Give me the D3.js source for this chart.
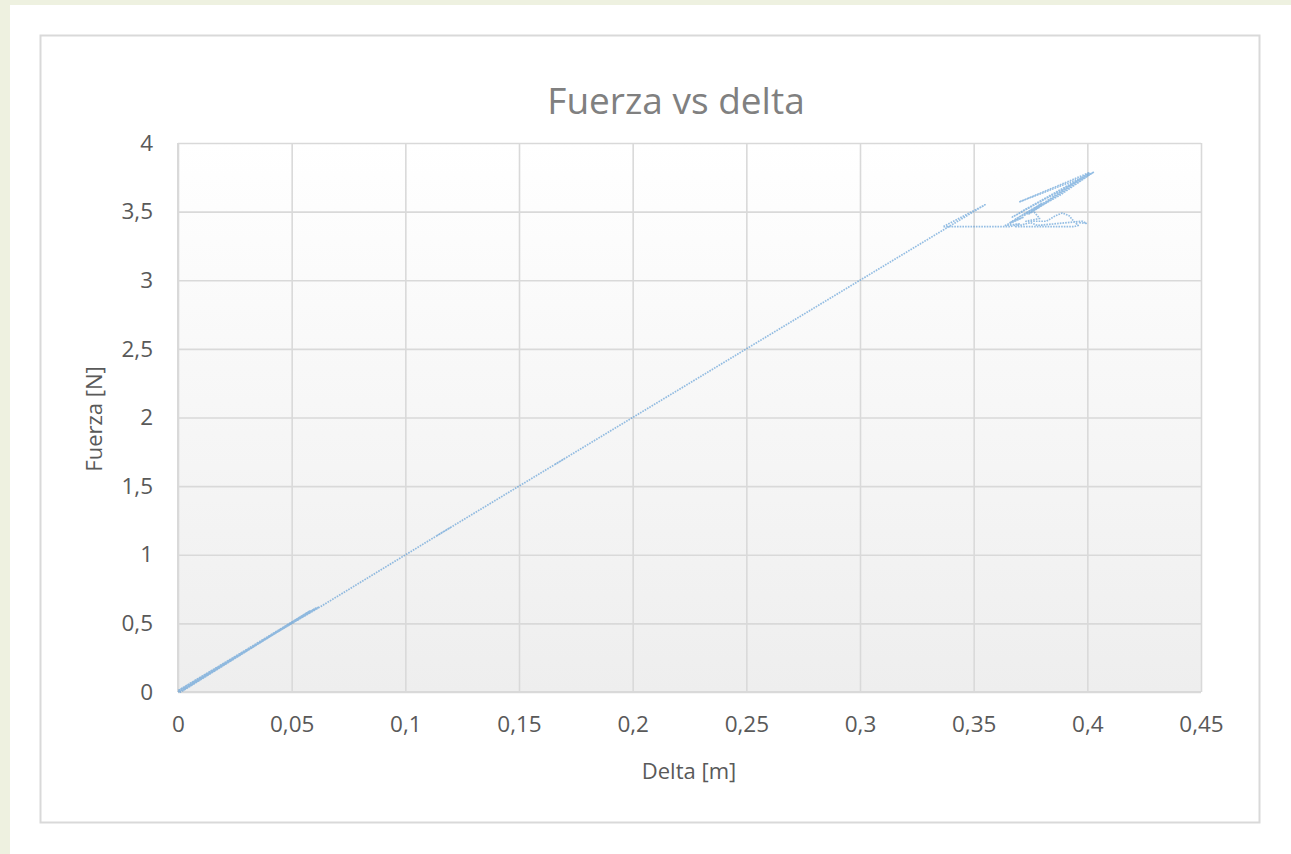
<!DOCTYPE html>
<html>
<head>
<meta charset="utf-8">
<script src="https://cdn.jsdelivr.net/npm/d3@7"></script>
<style>
  html, body { margin: 0; padding: 0; background: #eef1e0; }
  svg { display: block; }
  .tick text { font-family: "Open Sans", sans-serif; }
</style>
</head>
<body>
<svg id="chart" width="1291" height="854"></svg>
<script>
// Displacement of the spring [m]
const delta = [
  0, 0.062, 0.0, 0.058, 0.002, 0.060, 0.001, 0.061, 0.002, 0.059, 0.0, 0.063,
  0.115, 0.120, 0.114, 0.170, 0.166, 0.172, 0.250, 0.300, 0.355,
  0.3365, 0.366, 0.370, 0.364, 0.372, 0.366, 0.376, 0.368, 0.380, 0.372, 0.388,
  0.402, 0.371, 0.400, 0.367, 0.403, 0.374, 0.398, 0.370, 0.401, 0.376,
  0.379, 0.373, 0.382, 0.386, 0.389, 0.392, 0.394, 0.396, 0.394,
  0.368, 0.375, 0.378, 0.385, 0.398, 0.3995, 0.396
];
// Measured force [N]
const fuerza = [
  0, 0.62, 0.005, 0.59, 0.012, 0.605, 0.0, 0.615, 0.008, 0.595, 0.01, 0.625,
  1.15, 1.20, 1.14, 1.70, 1.66, 1.72, 2.50, 3.00, 3.55,
  3.39, 3.39, 3.41, 3.40, 3.46, 3.42, 3.52, 3.44, 3.56, 3.47, 3.62,
  3.78, 3.50, 3.77, 3.46, 3.79, 3.48, 3.75, 3.57, 3.785, 3.51,
  3.45, 3.43, 3.43, 3.47, 3.49, 3.47, 3.43, 3.40, 3.39,
  3.39, 3.42, 3.40, 3.41, 3.43, 3.415, 3.42
];

const xTicks = [0, 0.05, 0.1, 0.15, 0.2, 0.25, 0.3, 0.35, 0.4, 0.45];
const xTickLabels = ["0", "0,05", "0,1", "0,15", "0,2", "0,25", "0,3", "0,35", "0,4", "0,45"];
const yTicks = [0, 0.5, 1, 1.5, 2, 2.5, 3, 3.5, 4];
const yTickLabels = ["0", "0,5", "1", "1,5", "2", "2,5", "3", "3,5", "4"];

const svg = d3.select("#chart");

// slide background and white page
svg.append("rect").attr("x", 0).attr("y", 0).attr("width", 1291).attr("height", 854).attr("fill", "#eef1e0");
svg.append("rect").attr("x", 10).attr("y", 5).attr("width", 1281).attr("height", 849).attr("fill", "#ffffff");

// chart frame
svg.append("rect")
  .attr("x", 40.5).attr("y", 35.5).attr("width", 1219).attr("height", 787)
  .attr("fill", "#ffffff").attr("stroke", "#d9d9d9").attr("stroke-width", 2);

const plotLeft = 178, plotRight = 1201, plotTop = 143, plotBottom = 692;
const x = d3.scaleLinear().domain([0, 0.45]).range([plotLeft, plotRight]);
const y = d3.scaleLinear().domain([0, 4]).range([plotBottom, plotTop]);

// plot area background gradient
const defs = svg.append("defs");
const grad = defs.append("linearGradient").attr("id", "plotBg")
  .attr("x1", 0).attr("y1", 0).attr("x2", 0).attr("y2", 1);
grad.append("stop").attr("offset", "0%").attr("stop-color", "#ffffff");
grad.append("stop").attr("offset", "100%").attr("stop-color", "#eeeeee");
svg.append("rect").attr("x", plotLeft).attr("y", plotTop)
  .attr("width", plotRight - plotLeft).attr("height", plotBottom - plotTop)
  .attr("fill", "url(#plotBg)");

// gridlines
const gridColor = "#d9d9d9";
const xGrid = svg.append("g").attr("transform", `translate(0,${plotBottom})`)
  .call(d3.axisBottom(x).tickValues(xTicks).tickSize(-(plotBottom - plotTop)).tickFormat(""));
const yGrid = svg.append("g").attr("transform", `translate(${plotLeft},0)`)
  .call(d3.axisLeft(y).tickValues(yTicks).tickSize(-(plotRight - plotLeft)).tickFormat(""));
[xGrid, yGrid].forEach(g => {
  g.select(".domain").remove();
  g.selectAll(".tick line").attr("stroke", gridColor).attr("stroke-width", 1.6);
});

// axis lines
svg.append("line").attr("x1", plotLeft).attr("x2", plotRight).attr("y1", plotBottom).attr("y2", plotBottom)
  .attr("stroke", gridColor).attr("stroke-width", 2);
svg.append("line").attr("x1", plotLeft).attr("x2", plotLeft).attr("y1", plotTop).attr("y2", plotBottom)
  .attr("stroke", gridColor).attr("stroke-width", 2);

// tick labels
const xAxis = svg.append("g").attr("transform", `translate(0,${plotBottom})`)
  .call(d3.axisBottom(x).tickValues(xTicks).tickSize(0).tickPadding(24)
    .tickFormat((d, i) => xTickLabels[i]));
const yAxis = svg.append("g").attr("transform", `translate(${plotLeft},0)`)
  .call(d3.axisLeft(y).tickValues(yTicks).tickSize(0).tickPadding(25)
    .tickFormat((d, i) => yTickLabels[i]));
[xAxis, yAxis].forEach(g => {
  g.select(".domain").remove();
  g.selectAll(".tick text").attr("fill", "#595959").style("font-size", "22.5px");
});

// data line
const pts = delta.map((d, i) => [d, fuerza[i]]);
const line = d3.line().x(d => x(d[0])).y(d => y(d[1]));
svg.append("path").datum(pts)
  .attr("d", line)
  .attr("fill", "none")
  .attr("stroke", "#5b9bd5")
  .attr("stroke-opacity", 0.65)
  .attr("stroke-width", 1.7)
  .attr("stroke-dasharray", "1.6 1.1")
  .attr("stroke-linejoin", "round");

// title
svg.append("text").attr("x", 676).attr("y", 114)
  .attr("text-anchor", "middle")
  .attr("fill", "#808080")
  .style("font-family", "'Open Sans', sans-serif")
  .style("font-size", "37px")
  .text("Fuerza vs delta");

// axis titles
svg.append("text").attr("x", 689).attr("y", 779)
  .attr("text-anchor", "middle")
  .attr("fill", "#595959")
  .style("font-family", "'Open Sans', sans-serif")
  .style("font-size", "22px")
  .text("Delta [m]");
svg.append("text")
  .attr("transform", "translate(102,419) rotate(-90)")
  .attr("text-anchor", "middle")
  .attr("fill", "#595959")
  .style("font-family", "'Open Sans', sans-serif")
  .style("font-size", "22px")
  .text("Fuerza [N]");
</script>
</body>
</html>
